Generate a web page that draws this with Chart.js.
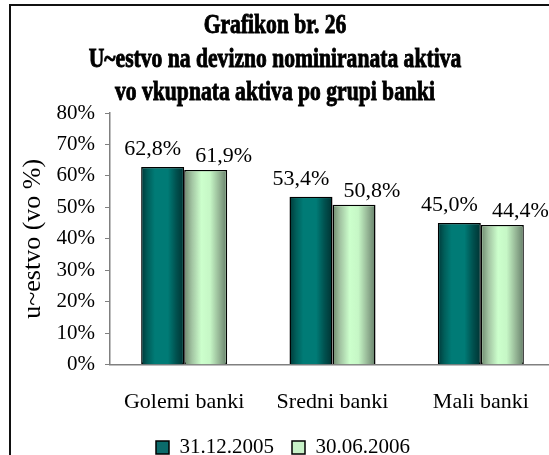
<!DOCTYPE html>
<html>
<head>
<meta charset="utf-8">
<script src="https://cdn.jsdelivr.net/npm/chart.js@4.4.0/dist/chart.umd.min.js"></script>
<style>
  html, body { margin: 0; padding: 0; background: #fff; overflow: hidden; width: 549px; height: 455px; }
  #frame { position: absolute; left: 9px; top: 4px; border: 2px solid #111; width: 556px; height: 463px; }
  #chart { display: block; }
</style>
</head>
<body>
<div id="frame"><canvas id="chart" width="556" height="463"></canvas></div>
<script>
const categories = ['Golemi banki', 'Sredni banki', 'Mali banki'];
const seriesNames = ['31.12.2005', '30.06.2006'];
const values2005 = [62.8, 53.4, 45.0];
const values2006 = [61.9, 50.8, 44.4];
const titleLines = ['Grafikon br. 26', 'U~estvo na devizno nominiranata aktiva', 'vo vkupnata aktiva po grupi banki'];
const yAxisTitle = 'u~estvo (vo %)';
const yMax = 80;
const yStep = 10;

const serifFont = "'Liberation Serif', 'Times New Roman', serif";

// horizontal shading of each bar, like the old office 3D look
const shades = [
    [[0, '#003838'], [0.15, '#005e5a'], [0.32, '#007b76'], [0.62, '#007b76'], [0.82, '#00504e'], [1, '#003232']],
    [[0, '#6c886c'], [0.18, '#a2c4a2'], [0.4, '#ccffcc'], [0.6, '#c6f7c6'], [0.82, '#94b494'], [1, '#66806a']]
];

const fmt = v => v.toFixed(1).replace('.', ',') + '%';

const barShade = {
    id: 'barShade',
    afterDatasetsDraw(chart) {
        const ctx = chart.ctx;
        chart.data.datasets.forEach((ds, i) => {
            const meta = chart.getDatasetMeta(i);
            meta.data.forEach(bar => {
                const { x, y, base, width } = bar.getProps(['x', 'y', 'base', 'width'], true);
                const left = x - width / 2;
                const b = ds.borderWidth;
                const g = ctx.createLinearGradient(left, 0, left + width, 0);
                shades[i].forEach(([o, c]) => g.addColorStop(o, c));
                ctx.save();
                ctx.fillStyle = g;
                ctx.fillRect(left + b, y + b, width - 2 * b, base - y - b);
                ctx.restore();
            });
        });
    }
};

// value labels above the bars, pushed apart a little like in the original
const valueLabels = {
    id: 'valueLabels',
    afterDatasetsDraw(chart) {
        const ctx = chart.ctx;
        const shiftX = [-10, 18];
        const gap = [12, 8];
        ctx.save();
        ctx.font = '22px ' + serifFont;
        ctx.fillStyle = '#000';
        ctx.textAlign = 'center';
        ctx.textBaseline = 'alphabetic';
        chart.data.datasets.forEach((ds, i) => {
            chart.getDatasetMeta(i).data.forEach((bar, j) => {
                ctx.fillText(fmt(ds.data[j]), bar.x + shiftX[i], bar.y - gap[i]);
            });
        });
        ctx.restore();
    }
};

// the title is a heavy condensed face in the original; squeeze a bold serif
const condensedTitle = {
    id: 'condensedTitle',
    afterDraw(chart) {
        const ctx = chart.ctx;
        const cx = 264;
        const baselines = [27, 60.5, 94];
        ctx.save();
        ctx.font = 'bold 27px ' + serifFont;
        ctx.fillStyle = '#000';
        ctx.strokeStyle = '#000';
        ctx.lineWidth = 0.9;
        ctx.textAlign = 'center';
        ctx.textBaseline = 'alphabetic';
        titleLines.forEach((t, i) => {
            ctx.save();
            ctx.translate(cx, baselines[i]);
            ctx.scale(0.8, 1);
            ctx.fillText(t, 0, 0);
            ctx.strokeText(t, 0, 0);
            ctx.restore();
        });
        ctx.restore();
    }
};

const ctx = document.getElementById('chart').getContext('2d');

const chart = new Chart(ctx, {
    type: 'bar',
    data: {
        labels: categories,
        datasets: [
            {
                label: seriesNames[0],
                data: values2005,
                backgroundColor: '#0b6b6b',
                borderColor: '#000',
                borderWidth: 1.5,
                borderSkipped: false
            },
            {
                label: seriesNames[1],
                data: values2006,
                backgroundColor: '#c8f2c8',
                borderColor: '#000',
                borderWidth: 1.5,
                borderSkipped: false
            }
        ]
    },
    options: {
        responsive: false,
        animation: false,
        devicePixelRatio: 1,
        layout: { padding: { left: 0, right: 12, top: 107, bottom: 1 } },
        datasets: {
            bar: { categoryPercentage: 0.58, barPercentage: 1.0 }
        },
        plugins: {
            title: { display: false },
            legend: {
                position: 'bottom',
                labels: {
                    color: '#000',
                    font: { family: serifFont, size: 21 },
                    boxWidth: 13,
                    boxHeight: 13,
                    padding: 18
                }
            },
            tooltip: { enabled: false }
        },
        scales: {
            x: {
                afterFit: s => { s.height -= 20; },
                grid: { display: false, drawTicks: false },
                border: { display: true, color: '#808080', width: 1.5 },
                ticks: {
                    color: '#000',
                    font: { family: serifFont, size: 22 },
                    padding: 24,
                    maxRotation: 0
                }
            },
            y: {
                min: 0,
                max: yMax,
                afterFit: s => { s.width = 99; },
                grid: { display: true, drawOnChartArea: false, drawTicks: true, tickLength: 5, color: '#808080' },
                border: { display: true, color: '#808080', width: 1.5 },
                ticks: {
                    stepSize: yStep,
                    color: '#000',
                    padding: 10,
                    font: { family: serifFont, size: 21 },
                    callback: v => v + '%'
                },
                title: {
                    display: true,
                    text: yAxisTitle,
                    color: '#000',
                    font: { family: serifFont, size: 26 },
                    padding: { top: 7, bottom: 0 }
                }
            }
        }
    },
    plugins: [barShade, valueLabels, condensedTitle]
});
</script>
</body>
</html>
